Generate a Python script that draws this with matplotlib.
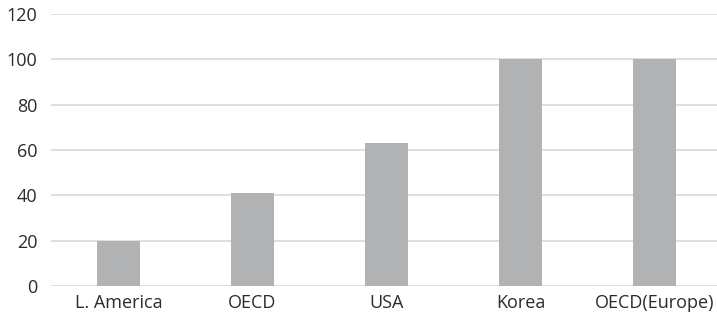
import matplotlib
matplotlib.use("Agg")
import matplotlib.pyplot as plt

categories = ["L. America", "OECD", "USA", "Korea", "OECD(Europe)"]
values = [20, 41, 63, 100, 100]
yticks = [0, 20, 40, 60, 80, 100, 120]

plt.rcParams['font.family'] = ['Open Sans', 'DejaVu Sans']

W, H = 717, 320
fig = plt.figure(figsize=(W/100, H/100), dpi=100)
x0, x1 = 51.5, 721.5
ytop, ybot = 14, 286
ax = fig.add_axes([x0/W, 1 - ybot/H, (x1 - x0)/W, (ybot - ytop)/H])

xs = range(len(categories))
ax.bar(xs, values, width=0.32, color="#b1b2b4", zorder=3)
ax.set_xlim(-0.5, len(categories) - 0.5)
ax.set_ylim(0, 120)
ax.set_yticks(yticks)
ax.set_xticks(list(xs))
ax.set_xticklabels(categories)
ax.grid(axis="y", color="#d9d9d9", linewidth=1.2, zorder=0)
ax.set_axisbelow(True)
for s in ax.spines.values():
    s.set_visible(False)
ax.tick_params(axis="both", length=0, labelsize=13, labelcolor="#2b2b2b")
ax.tick_params(axis="y", pad=10)
ax.tick_params(axis="x", pad=6)

fig.savefig("out.png", dpi=100)
